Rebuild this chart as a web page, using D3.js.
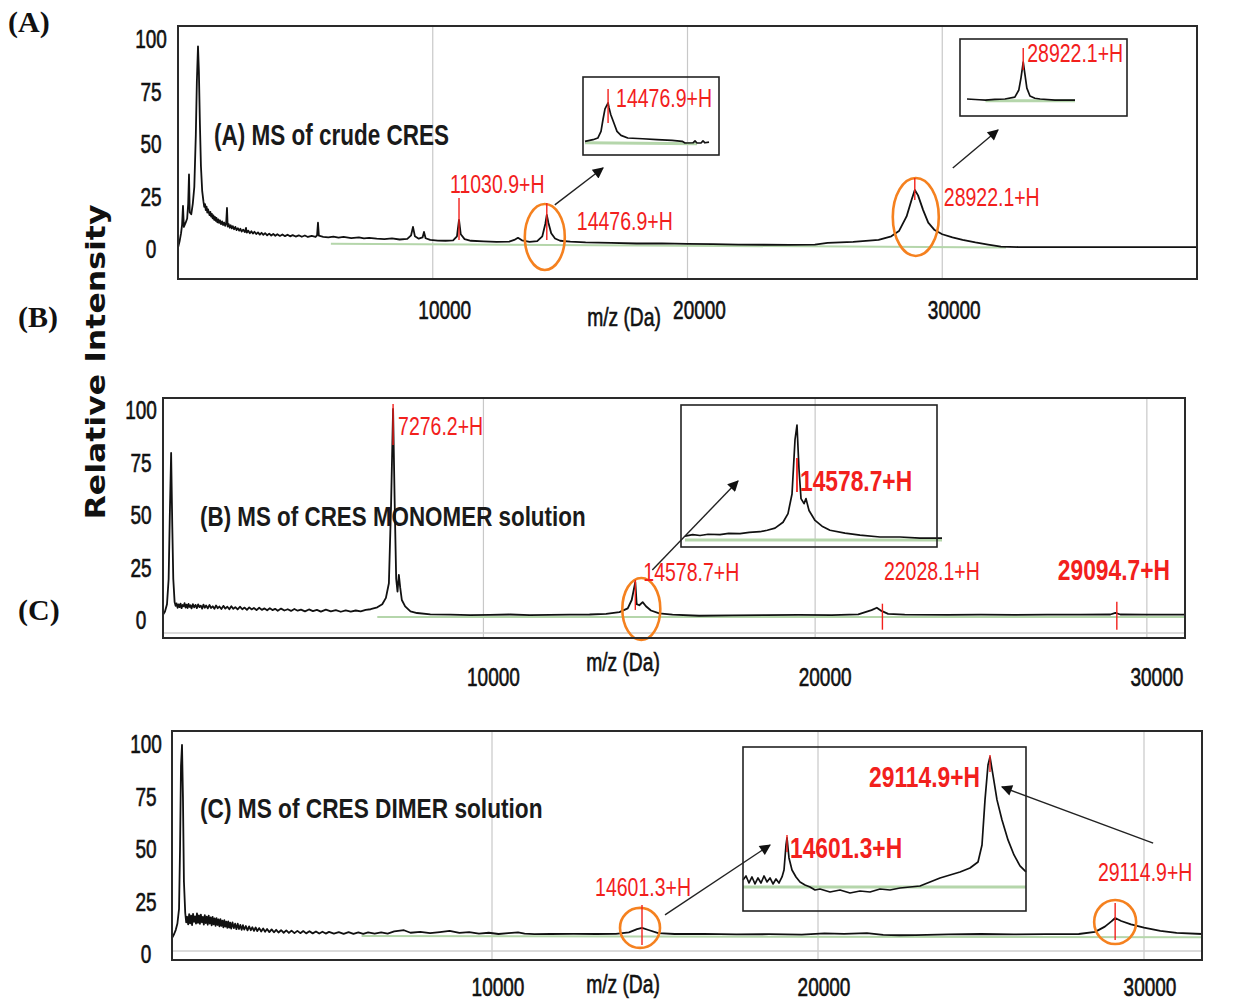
<!DOCTYPE html>
<html>
<head>
<meta charset="utf-8">
<script src="https://cdn.jsdelivr.net/npm/d3@7"></script>
<style>
  html, body { margin: 0; padding: 0; background: #fff; }
  svg { display: block; }
</style>
</head>
<body>
<svg id="fig" width="1239" height="1003"></svg>
<script>
// ---- axis tick values ----
const massTicks = [10000, 20000, 30000];
const intensityTicks = [0, 25, 50, 75, 100];

// ---- (A) crude CRES: [m/z, relative intensity] ----
const crudeSpectrum = [
  [0, 1], [60, 4], [120, 8], [160, 12], [196, 21], [230, 11], [300, 13], [360, 15], [400, 22],
  [432, 36], [460, 18], [520, 17], [580, 22], [640, 30], [700, 55], [740, 80], [785, 97],
  [820, 85], [860, 60], [900, 40], [950, 28], [1000, 23], [1030, 20.5], [1060, 21.8],
  [1090, 19], [1120, 20.6], [1150, 17.8], [1180, 19.4], [1210, 17.9], [1240, 16.6],
  [1270, 18.1], [1300, 15.9], [1330, 17.2], [1360, 15.1], [1390, 16.5], [1420, 14.4],
  [1450, 15.8], [1480, 13.9], [1510, 15.3], [1545, 13.2], [1580, 14.6], [1615, 12.9],
  [1650, 14.1], [1690, 12.3], [1730, 13.6], [1770, 11.9], [1810, 13.1], [1850, 11.5],
  [1890, 12.6], [1923, 20], [1950, 11.2], [1990, 12.3], [2030, 10.6], [2070, 11.8],
  [2110, 10.3], [2150, 11.4], [2200, 9.9], [2250, 11], [2300, 9.5], [2350, 10.4], [2400, 9.2],
  [2450, 10.1], [2500, 8.8], [2560, 9.7], [2620, 8.5], [2669, 10.5], [2700, 8.3], [2760, 9.2],
  [2820, 8], [2880, 8.9], [2940, 7.8], [3000, 8.7], [3070, 7.6], [3140, 8.4], [3210, 7.3],
  [3280, 8.2], [3350, 7.2], [3420, 8], [3500, 7], [3580, 7.8], [3660, 6.9], [3740, 7.6],
  [3820, 6.8], [3900, 7.5], [4000, 6.7], [4100, 7.4], [4200, 6.6], [4300, 7.3], [4400, 6.5],
  [4500, 7.1], [4620, 6.4], [4740, 7], [4860, 6.3], [4980, 6.9], [5100, 6.2], [5250, 6.7],
  [5400, 6.2], [5460, 7], [5495, 13], [5530, 6.8], [5700, 6.3], [5900, 6], [6100, 6.4],
  [6300, 5.9], [6500, 6.2], [6800, 5.7], [7100, 6], [7300, 5.5], [7500, 5.8], [7800, 5.4],
  [8100, 5.2], [8400, 5.5], [8700, 5], [9000, 5.3], [9150, 7], [9224, 11], [9300, 6.5],
  [9450, 5.4], [9600, 6], [9656, 8.6], [9720, 5.6], [9900, 4.8], [10200, 4.5], [10500, 4.4],
  [10800, 4.6], [10950, 6.5], [11030.9, 14.3], [11100, 7.5], [11250, 5.2], [11500, 4.4],
  [12000, 4.1], [12500, 3.9], [13000, 4], [13200, 4.8], [13345, 5.8], [13500, 4.6],
  [13800, 3.9], [14100, 4.2], [14300, 6.5], [14420, 12.5], [14476.9, 16.7], [14540, 13],
  [14650, 8], [14800, 5.5], [15000, 4.4], [15400, 4], [16000, 3.6], [17000, 3.4], [18000, 3.1],
  [19000, 3.2], [20000, 2.9], [21000, 2.8], [22000, 2.6], [23000, 2.5], [24000, 2.4],
  [25000, 2.6], [25500, 3.4], [26500, 3.9], [27000, 4.3], [27500, 4.8], [28000, 6.5],
  [28300, 9], [28600, 16], [28800, 24], [28922.1, 28.6], [29050, 26], [29250, 19], [29450, 13],
  [29700, 9.5], [30000, 7.5], [30400, 6], [30800, 4.8], [31300, 3.6], [31800, 2.6],
  [32300, 1.6], [33000, 1.4], [35000, 1.4], [38000, 1.4], [40000, 1.4]
];
const crudeBaseline = [[6000, 3.0], [32500, 1.2]];
const crudePeaks = [
  { mz: 11030.9, v: 14.3, text: "11030.9+H" },
  { mz: 14476.9, v: 16.7, text: "14476.9+H" },
  { mz: 28922.1, v: 28.6, text: "28922.1+H" }
];
const crudeZoom14k = [
  [13900, 2.8], [14100, 3.5], [14220, 4.2], [14300, 7], [14350, 12], [14400, 16.5],
  [14476.9, 19], [14500, 17], [14545, 14], [14620, 10.6], [14700, 7], [14800, 5.3],
  [14970, 4.2], [15340, 3.9], [15700, 3.5], [16080, 3.2], [16330, 2.8], [16400, 2.1],
  [16600, 2.2], [16650, 3], [16700, 2.1], [16800, 2.1], [16850, 3], [16900, 2.2], [17000, 2.5]
];
const crudeZoom14kBaseline = [[13900, 2.2], [16700, 1.8]];
const crudeZoom14kPeaks = [{ mz: 14476.9, v: 19, text: "14476.9+H" }];
const crudeZoom29k = [
  [27100, 3.7], [27500, 3.2], [27700, 3], [28000, 3.4], [28330, 3.7], [28650, 5], [28780, 9.8],
  [28850, 18], [28922.1, 28.6], [28980, 20], [29040, 11], [29140, 5.7], [29300, 4.2],
  [29470, 3.7], [29950, 3], [30600, 3]
];
const crudeZoom29kBaseline = [[27700, 2.6], [30600, 2.6]];
const crudeZoom29kPeaks = [{ mz: 28922.1, v: 28.6, text: "28922.1+H" }];

// ---- (B) CRES monomer solution ----
const monomerSpectrum = [
  [340, 2.9], [400, 4.5], [460, 8], [510, 20], [545, 50], [585, 80], [620, 45], [650, 20],
  [690, 9], [720, 7.2], [750, 8.4], [780, 6.3], [810, 7.9], [840, 6.6], [870, 8.3], [900, 6.1],
  [930, 7.6], [960, 7.0], [990, 8.5], [1020, 6.4], [1050, 7.8], [1080, 6.2], [1110, 8.1],
  [1140, 6.7], [1170, 7.5], [1200, 6.0], [1240, 8.0], [1280, 6.5], [1320, 7.7], [1360, 6.1],
  [1400, 7.9], [1440, 6.6], [1480, 7.3], [1520, 5.9], [1560, 7.8], [1600, 6.3], [1640, 7.4],
  [1690, 6.0], [1740, 7.6], [1790, 6.2], [1840, 7.0], [1890, 5.8], [1940, 7.4], [1990, 6.1],
  [2040, 6.9], [2100, 5.7], [2160, 7.2], [2220, 5.9], [2280, 6.8], [2340, 5.6], [2400, 7.0],
  [2460, 5.8], [2520, 6.6], [2590, 5.5], [2660, 6.8], [2730, 5.6], [2800, 6.4], [2870, 5.3],
  [2940, 6.5], [3010, 5.5], [3080, 6.2], [3160, 5.2], [3240, 6.3], [3320, 5.3], [3400, 6.0],
  [3480, 5.1], [3560, 6.1], [3640, 5.2], [3720, 5.8], [3800, 4.9], [3900, 5.9], [4000, 5.0],
  [4100, 5.6], [4200, 4.8], [4300, 5.7], [4400, 4.9], [4500, 5.4], [4620, 4.6], [4740, 5.5],
  [4860, 4.7], [4980, 5.3], [5100, 4.5], [5250, 5.4], [5400, 4.6], [5550, 5.2], [5700, 4.4],
  [5850, 5.1], [6000, 4.5], [6150, 5.0], [6300, 4.6], [6450, 5.3], [6600, 5.6], [6800, 6.5],
  [6950, 8], [7060, 11], [7150, 18], [7215, 55], [7276.2, 101], [7320, 60], [7370, 20],
  [7410, 14], [7450, 22], [7490, 16], [7540, 10], [7640, 7], [7800, 4.6], [8000, 3.8],
  [8400, 3.2], [9000, 3], [9600, 2.8], [10200, 2.9], [10800, 3.1], [11400, 2.8], [12000, 2.9],
  [12600, 3], [13200, 3.1], [13700, 3.4], [14100, 4.2], [14350, 6], [14470, 10],
  [14578.7, 18.6], [14620, 8], [14700, 7.5], [14800, 9], [14900, 7], [15050, 5], [15300, 3.6],
  [15700, 3], [16500, 2.5], [17500, 2.7], [18500, 2.8], [19500, 2.9], [20500, 2.8],
  [21300, 3.2], [21700, 5.2], [21860, 6.3], [22000, 4.8], [22200, 3.4], [22700, 3],
  [24000, 2.9], [25000, 3], [26000, 2.9], [27000, 3], [28000, 3], [28900, 3.1], [29050, 3.9],
  [29200, 3.1], [30000, 3], [31150, 3]
];
const monomerBaseline = [[6800, 1.9], [31150, 1.9]];
const monomerPeaks = [
  { mz: 7276.2, v: 101, text: "7276.2+H" },
  { mz: 14578.7, v: 18.6, text: "14578.7+H" },
  { mz: 22028.1, v: 3, text: "22028.1+H" },
  { mz: 29094.7, v: 3, text: "29094.7+H" }
];
const monomerZoom = [
  [12400, 3.4], [12550, 4.6], [12692, 3.9], [12850, 5], [13081, 4.6], [13250, 5.8],
  [13470, 5.5], [13650, 6.6], [13859, 7.2], [14000, 8.5], [14151, 10.3], [14307, 15.4],
  [14404, 23], [14482, 40], [14540, 87], [14578.7, 100], [14618, 61.5], [14657, 36],
  [14716, 31.6], [14754, 36], [14813, 25.6], [14930, 17], [15066, 12], [15221, 8.5],
  [15513, 6], [15805, 4.3], [16194, 2.6], [16583, 2.6], [16972, 1.7], [17400, 1.7]
];
const monomerZoomBaseline = [[12400, 0], [17400, 0]];
const monomerZoomPeaks = [{ mz: 14578.7, v: 100, text: "14578.7+H" }];

// ---- (C) CRES dimer solution ----
const dimerSpectrum = [
  [184, 8], [250, 10], [300, 12], [350, 15], [400, 22], [430, 50], [460, 90], [491, 100],
  [520, 75], [550, 35], [590, 20], [620, 15.5], [650, 18.2], [680, 14.6], [710, 19.4],
  [740, 15.1], [770, 18.8], [800, 14.2], [830, 19.6], [860, 15.8], [890, 18.4], [920, 14.9],
  [950, 19.8], [980, 15.3], [1010, 18.9], [1040, 14.8], [1070, 19.2], [1100, 15.6],
  [1130, 18.1], [1160, 14.5], [1190, 19.0], [1220, 15.2], [1250, 18.3], [1280, 14.4],
  [1310, 18.7], [1340, 15.0], [1370, 17.9], [1400, 14.1], [1430, 18.2], [1460, 14.6],
  [1490, 17.4], [1520, 13.9], [1550, 17.6], [1580, 14.3], [1610, 16.9], [1640, 13.6],
  [1670, 17.1], [1700, 13.9], [1730, 16.4], [1760, 13.2], [1790, 16.6], [1820, 13.5],
  [1850, 15.9], [1880, 12.9], [1910, 16.0], [1940, 13.1], [1970, 15.4], [2000, 12.6],
  [2040, 15.5], [2080, 12.8], [2120, 14.9], [2160, 12.3], [2200, 14.9], [2240, 12.4],
  [2280, 14.3], [2320, 12.0], [2360, 14.2], [2400, 12.1], [2450, 13.8], [2500, 11.7],
  [2550, 13.6], [2600, 11.8], [2650, 13.2], [2700, 11.5], [2750, 13.1], [2800, 11.4],
  [2860, 12.8], [2920, 11.2], [2980, 12.6], [3040, 11.1], [3100, 12.4], [3170, 10.9],
  [3240, 12.2], [3310, 10.8], [3380, 12.0], [3450, 10.7], [3530, 11.8], [3610, 10.6],
  [3690, 11.7], [3770, 10.5], [3850, 11.6], [3940, 10.4], [4030, 11.5], [4120, 10.4],
  [4210, 11.4], [4300, 10.3], [4400, 11.3], [4500, 10.3], [4600, 11.2], [4700, 10.2],
  [4800, 11.1], [4900, 10.2], [5000, 11.0], [5150, 10.2], [5300, 10.9], [5450, 10.1],
  [5600, 10.9], [5750, 10.1], [5900, 10.8], [6050, 10.1], [6200, 10.8], [6400, 10.2],
  [6600, 10.8], [6800, 10.2], [7000, 11.2], [7300, 11.8], [7500, 10.6], [7800, 11],
  [8100, 10.4], [8400, 10.9], [8700, 11.5], [9000, 10.5], [9300, 10.9], [9600, 10.2],
  [9900, 10.6], [10200, 10], [10500, 10.4], [10800, 10.8], [11000, 10.2], [11300, 9.9],
  [11800, 10], [12500, 10.1], [13200, 10], [13800, 10.1], [14200, 10.8], [14450, 12.3],
  [14601.3, 12.9], [14800, 11.9], [15100, 10.4], [15600, 10], [16500, 10.1], [17500, 9.8],
  [18500, 9.9], [19500, 9.7], [20200, 10.3], [20800, 10.1], [21500, 10.4], [22000, 9.6],
  [22500, 9.4], [23000, 9.5], [24000, 9.8], [25000, 10], [26000, 9.8], [27000, 9.9],
  [28000, 10], [28500, 11], [28800, 13.5], [29000, 16], [29114.9, 17.6], [29300, 16.2],
  [29600, 14.6], [30000, 13], [30500, 11.5], [31000, 10.5], [31779, 10]
];
const dimerBaseline = [[6000, 9], [31779, 8.4]];
const dimerPeaks = [
  { mz: 14601.3, v: 12.9, text: "14601.3+H" },
  { mz: 29114.9, v: 17.6, text: "29114.9+H" }
];
const dimerZoom = [
  [11455, 14], [11670, 16.8], [11884, 11.9], [12099, 16.1], [12313, 11.2], [12528, 15.4],
  [12742, 11.9], [12957, 16.8], [13171, 12.6], [13386, 15.4], [13600, 11.2], [13815, 14.7],
  [14029, 11.9], [14244, 16.1], [14387, 21], [14530, 38.5], [14601.3, 43.4], [14744, 29.4],
  [14958, 21], [15245, 16.1], [15531, 12.6], [15888, 10.5], [16246, 9.1], [16603, 7],
  [16961, 7.7], [17676, 5.6], [18391, 7], [19106, 4.9], [19821, 6.3], [20536, 5.6],
  [21251, 7.7], [21966, 7], [22681, 8.4], [23396, 9.1], [24111, 9.8], [24826, 12.6],
  [25541, 15.4], [26256, 17.5], [26971, 19.6], [27686, 22.4], [28258, 26.6], [28544, 38.5],
  [28759, 70], [28973, 94.4], [29114.9, 100], [29330, 87.4], [29616, 70], [29974, 56],
  [30403, 42], [30832, 31.5], [31261, 23.8], [31690, 19.6]
];
const dimerZoomBaseline = [[11455, 9.1], [31690, 9.1]];
const dimerZoomPeaks = [
  { mz: 14601.3, v: 43.4, text: "14601.3+H" },
  { mz: 29114.9, v: 100, text: "29114.9+H" }
];

// ---- styling ----
const RED = "#f2201c", ORANGE = "#f5811f", GREEN = "#b5d6ab", GRID = "#c8c8c8", INK = "#111";
const SANS = "'Liberation Sans', Arial, sans-serif";
const SERIF = "'Liberation Serif', 'Times New Roman', serif";

const svg = d3.select("#fig");
svg.append("rect").attr("width", 1239).attr("height", 1003).attr("fill", "#fff");

svg.append("defs").append("marker")
  .attr("id", "head").attr("viewBox", "0 0 10 10")
  .attr("refX", 9).attr("refY", 5)
  .attr("markerWidth", 13).attr("markerHeight", 11)
  .attr("markerUnits", "userSpaceOnUse").attr("orient", "auto")
  .append("path").attr("d", "M0,0 L10,5 L0,10 Z").attr("fill", "#111");

// condensed text helper: text is drawn at (x, y) and squeezed horizontally by sx
function txt(g, s, x, y, o = {}) {
  return g.append("text")
    .attr("transform", `translate(${x},${y}) scale(${o.sx ?? 1},1)`)
    .attr("text-anchor", o.anchor || "start")
    .attr("dominant-baseline", "central")
    .attr("font-family", o.family || SANS)
    .attr("font-size", o.size || 24)
    .attr("font-weight", o.weight || "normal")
    .attr("fill", o.fill || INK)
    .attr("stroke", o.stroke || "none")
    .attr("stroke-width", o.strokeWidth || 0)
    .text(s);
}

const smallRed = { size: 25, sx: 0.78, fill: RED };
const boldRed = { size: 30, sx: 0.76, fill: RED, weight: "bold" };
const darkText = { size: 25, sx: 0.76, anchor: "middle", stroke: INK, strokeWidth: 0.6 };

function drawTrace(g, data, x, y, width) {
  g.append("path").datum(data)
    .attr("fill", "none").attr("stroke", INK).attr("stroke-width", width)
    .attr("stroke-linejoin", "round")
    .attr("d", d3.line().x(d => x(d[0])).y(d => y(d[1])));
}
function drawBaseline(g, data, x, y, width) {
  g.append("path").datum(data)
    .attr("fill", "none").attr("stroke", GREEN).attr("stroke-width", width)
    .attr("d", d3.line().x(d => x(d[0])).y(d => y(d[1])));
}
function redTick(g, px, py, span, width) {
  g.append("line").attr("x1", px).attr("x2", px)
    .attr("y1", py + span[0]).attr("y2", py + span[1])
    .attr("stroke", RED).attr("stroke-width", width || 1.4);
}

// zoomed inset: frame box plus its own scales
function drawInset(g, cfg) {
  const x = d3.scaleLinear().domain(cfg.mz).range(cfg.xr);
  const y = d3.scaleLinear().domain(cfg.v).range(cfg.yr);
  drawBaseline(g, cfg.baseline, x, y, 3);
  drawTrace(g, cfg.data, x, y, 1.7);
  cfg.peaks.forEach((p, i) => {
    const a = cfg.notes[i];
    const px = x(p.mz), py = y(p.v);
    if (a.line) redTick(g, px, py, a.line, a.lineWidth || 1.4);
    txt(g, p.text, px + a.lx, py + a.ly, Object.assign({ anchor: a.anchor || "start" }, a.style));
  });
  g.append("rect").attr("x", cfg.box[0]).attr("y", cfg.box[1])
    .attr("width", cfg.box[2]).attr("height", cfg.box[3])
    .attr("fill", "none").attr("stroke", "#222").attr("stroke-width", 1.6);
}

function drawPanel(cfg) {
  const g = svg.append("g");
  const [fx, fy, fw, fh] = cfg.frame;
  const x = d3.scaleLinear().domain(cfg.mz).range([fx, fx + fw]);
  const y = d3.scaleLinear().domain([0, 100]).range([cfg.zeroY, cfg.zeroY - 210]);

  // grid lines at the mass ticks
  g.selectAll(".grid").data(massTicks).join("line")
    .attr("x1", d => x(d)).attr("x2", d => x(d))
    .attr("y1", fy).attr("y2", fy + fh)
    .attr("stroke", GRID).attr("stroke-width", 1.2);
  if (cfg.floorY) {
    g.append("line").attr("x1", fx).attr("x2", fx + fw)
      .attr("y1", cfg.floorY).attr("y2", cfg.floorY)
      .attr("stroke", "#cfcfcf").attr("stroke-width", 1.5);
  }

  // panel title
  txt(g, cfg.title, cfg.titlePos[0], cfg.titlePos[1],
      { size: cfg.titleSize, sx: cfg.titleSx, weight: "bold", fill: "#1a1a1a" });

  // insets
  cfg.insets.forEach(ins => drawInset(g, ins));

  // spectrum
  drawBaseline(g, cfg.baseline, x, y, 2);
  drawTrace(g, cfg.spectrum, x, y, 1.8);

  // peak annotations
  cfg.peaks.forEach((p, i) => {
    const a = cfg.notes[i];
    const px = x(p.mz), py = y(p.v);
    if (a.ring) {
      g.append("ellipse").attr("cx", px + a.ring[0]).attr("cy", py + a.ring[1])
        .attr("rx", a.ring[2]).attr("ry", a.ring[3])
        .attr("fill", "none").attr("stroke", ORANGE).attr("stroke-width", 2.6);
    }
    redTick(g, px, py, a.line, 1.4);
    txt(g, p.text, px + a.lx, py + a.ly, Object.assign({ anchor: a.anchor || "start" }, a.style));
    if (a.arrow) {
      g.append("line").attr("x1", px + a.arrow[0]).attr("y1", py + a.arrow[1])
        .attr("x2", a.arrow[2]).attr("y2", a.arrow[3])
        .attr("stroke", "#222").attr("stroke-width", 1.4)
        .attr("marker-end", "url(#head)");
    }
  });

  // intensity labels
  intensityTicks.forEach(v => txt(g, String(v), cfg.yLabelX, y(v), darkText));
  // mass labels
  massTicks.forEach(t => txt(g, String(t), x(t) + cfg.tickDx, cfg.tickY, darkText));
  txt(g, "m/z (Da)", cfg.axisTitle[0], cfg.axisTitle[1], Object.assign({}, darkText, { sx: 0.77 }));

  // frame
  g.append("rect").attr("x", fx).attr("y", fy).attr("width", fw).attr("height", fh)
    .attr("fill", "none").attr("stroke", "#2a2a2a").attr("stroke-width", 2);
}

// (A)
drawPanel({
  frame: [178, 26, 1019, 253], mz: [0, 40000], zeroY: 250,
  spectrum: crudeSpectrum, baseline: crudeBaseline, peaks: crudePeaks,
  notes: [
    { lx: -9, ly: -35, line: [-22, 20], style: smallRed },
    { lx: 30, ly: 7, line: [-12, 25], style: smallRed, ring: [-2, 22, 20, 33], arrow: [8, -10, 603, 168] },
    { lx: 29, ly: 8, line: [-12, 10], style: smallRed, ring: [1, 27, 23, 39], arrow: [38, -22, 998, 130] }
  ],
  title: "(A) MS of crude CRES", titlePos: [214, 135], titleSize: 29, titleSx: 0.776,
  yLabelX: 151, tickDx: 12, tickY: 311, axisTitle: [624, 318],
  insets: [
    { box: [583, 77, 136, 78], mz: [13900, 17000], xr: [585, 709], v: [0, 20], yr: [148, 100.5],
      data: crudeZoom14k, baseline: crudeZoom14kBaseline, peaks: crudeZoom14kPeaks,
      notes: [{ lx: 8, ly: -4, line: [-14, 20], style: smallRed }] },
    { box: [960, 39, 167, 77], mz: [27100, 30600], xr: [967, 1075], v: [0, 30], yr: [104.5, 60],
      data: crudeZoom29k, baseline: crudeZoom29kBaseline, peaks: crudeZoom29kPeaks,
      notes: [{ lx: 4, ly: -8, line: [-14, 8], style: smallRed }] }
  ]
});

// (B)
drawPanel({
  frame: [163, 398, 1022, 240], mz: [340, 31150], zeroY: 621, floorY: 633,
  spectrum: monomerSpectrum, baseline: monomerBaseline, peaks: monomerPeaks,
  notes: [
    { lx: 5, ly: 18, line: [-5, 36], style: smallRed },
    { lx: 8, ly: -9, line: [-2, 28], style: smallRed, ring: [6, 27, 19, 31], arrow: [17, -12, 738, 481] },
    { lx: 1.5, ly: -43, line: [-11, 15], style: smallRed },
    { lx: -59, ly: -45, line: [-13, 15], style: boldRed }
  ],
  title: "(B) MS of CRES MONOMER solution", titlePos: [200, 516], titleSize: 28, titleSx: 0.80,
  yLabelX: 141, tickDx: 10, tickY: 678, axisTitle: [623, 663],
  insets: [
    { box: [681, 405, 256, 142], mz: [12400, 17400], xr: [685, 942], v: [0, 100], yr: [540, 425],
      data: monomerZoom, baseline: monomerZoomBaseline, peaks: monomerZoomPeaks,
      notes: [{ lx: 3, ly: 56, line: [33, 67], lineWidth: 1.8, style: boldRed }] }
  ]
});

// (C)
drawPanel({
  frame: [172, 731, 1030, 229], mz: [184, 31779], zeroY: 955, floorY: 951,
  spectrum: dimerSpectrum, baseline: dimerBaseline, peaks: dimerPeaks,
  notes: [
    { lx: 1, ly: -40, anchor: "middle", line: [-23, 17], style: smallRed, ring: [-2, 0, 20, 20], arrow: [23, -13, 770, 845] },
    { lx: 30, ly: -45, anchor: "middle", line: [-15, 22], style: smallRed, ring: [0, 4, 21, 22], arrow: [38, -75, 1002, 787] }
  ],
  title: "(C)  MS of CRES DIMER solution", titlePos: [200, 808], titleSize: 28, titleSx: 0.81,
  yLabelX: 146, tickDx: 6, tickY: 988, axisTitle: [623, 985],
  insets: [
    { box: [743, 747, 283, 164], mz: [11455, 31690], xr: [743, 1026], v: [0, 100], yr: [900, 757],
      data: dimerZoom, baseline: dimerZoomBaseline, peaks: dimerZoomPeaks,
      notes: [
        { lx: 3, ly: 10, line: [-3, 14], style: boldRed },
        { lx: -10, ly: 20, anchor: "end", line: [-2, 15], style: boldRed }
      ] }
  ]
});

// shared labels
txt(svg, "(A)", 8, 21, { family: SERIF, size: 30, weight: "bold" });
txt(svg, "(B)", 18, 316, { family: SERIF, size: 30, weight: "bold" });
txt(svg, "(C)", 18, 609, { family: SERIF, size: 30, weight: "bold" });

svg.append("text")
  .attr("transform", "translate(95,362) rotate(-90)")
  .attr("text-anchor", "middle").attr("dominant-baseline", "central")
  .attr("font-family", "'DejaVu Sans', Verdana, sans-serif")
  .attr("font-size", 27).attr("font-weight", "bold").attr("fill", "#111")
  .attr("textLength", 315).attr("lengthAdjust", "spacingAndGlyphs")
  .text("Relative Intensity");
</script>
</body>
</html>
